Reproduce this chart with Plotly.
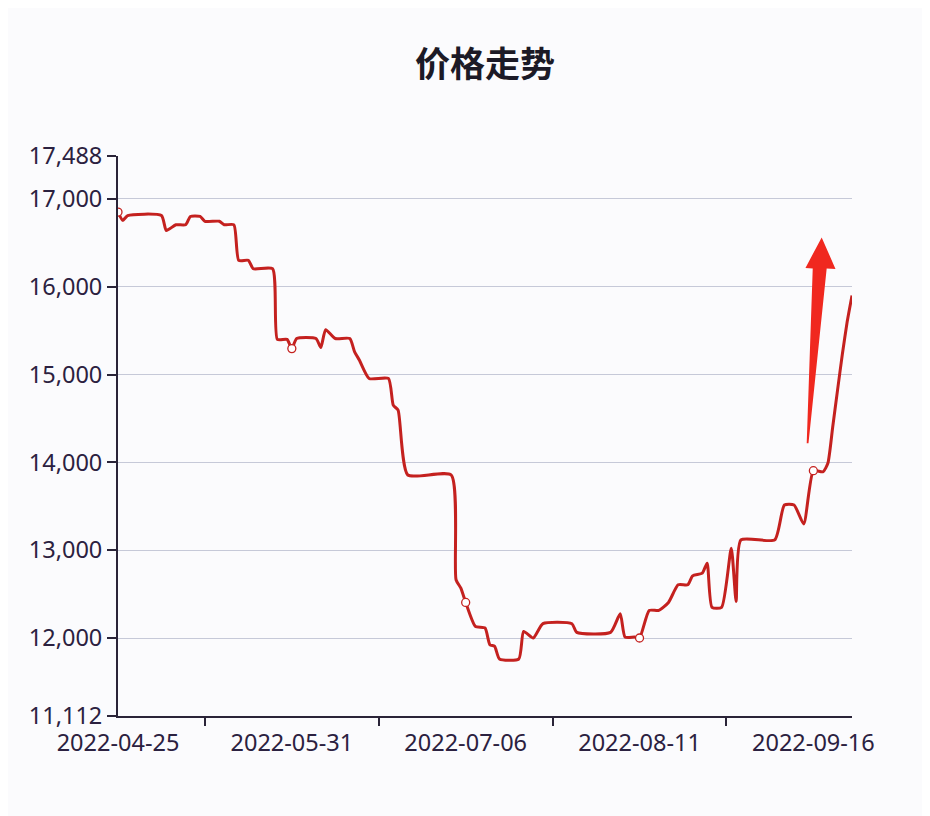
import plotly.graph_objects as go

# price series (daily closes, only the turning points kept)
dates = [
    "2022-04-25", "2022-04-26", "2022-04-27", "2022-05-04", "2022-05-05",
    "2022-05-07", "2022-05-09", "2022-05-10", "2022-05-12", "2022-05-13",
    "2022-05-16", "2022-05-17", "2022-05-19", "2022-05-20", "2022-05-22",
    "2022-05-23", "2022-05-27", "2022-05-28", "2022-05-30", "2022-05-31",
    "2022-06-01", "2022-06-05", "2022-06-06", "2022-06-07", "2022-06-09",
    "2022-06-12", "2022-06-13", "2022-06-14", "2022-06-16", "2022-06-20",
    "2022-06-21", "2022-06-22", "2022-06-24", "2022-07-03", "2022-07-04",
    "2022-07-05", "2022-07-06", "2022-07-08", "2022-07-10", "2022-07-11",
    "2022-07-12", "2022-07-13", "2022-07-17", "2022-07-18", "2022-07-20",
    "2022-07-22", "2022-07-28", "2022-07-29", "2022-08-05", "2022-08-07",
    "2022-08-08", "2022-08-10", "2022-08-11", "2022-08-13", "2022-08-15",
    "2022-08-17", "2022-08-19", "2022-08-21", "2022-08-22", "2022-08-24",
    "2022-08-25", "2022-08-26", "2022-08-28", "2022-08-30", "2022-08-31",
    "2022-09-01", "2022-09-08", "2022-09-10", "2022-09-12", "2022-09-14",
    "2022-09-16", "2022-09-18", "2022-09-19", "2022-09-20", "2022-09-21",
    "2022-09-22", "2022-09-23", "2022-09-24",
]
prices = [
    16850, 16755, 16810, 16810, 16640,
    16705, 16705, 16800, 16800, 16745,
    16745, 16705, 16705, 16300, 16300,
    16205, 16205, 15400, 15400, 15295,
    15410, 15410, 15307, 15510, 15410,
    15410, 15257, 15163, 14955, 14955,
    14651, 14594, 13856, 13856, 12663,
    12568, 12405, 12132, 12114, 11924,
    11905, 11761, 11761, 12075, 12000,
    12163, 12163, 12064, 12064, 12276,
    12011, 12011, 12000, 12314, 12314,
    12405, 12606, 12606, 12708, 12739,
    12852, 12350, 12350, 13023, 12416,
    13117, 13117, 13515, 13515, 13299,
    13905, 13893, 13989, 14400, 14820,
    15230, 15600, 15900,
]

x_labels = ["2022-04-25", "2022-05-31", "2022-07-06", "2022-08-11", "2022-09-16"]
x_tickmarks = ["2022-05-13", "2022-06-18", "2022-07-24", "2022-08-29"]
y_ticks = [11112, 12000, 13000, 14000, 15000, 16000, 17000, 17488]

line_color = "#c4211f"
text_color = "#2b2140"
axis_color = "#2a2438"
bg = "#fbfbfd"

fig = go.Figure()
fig.add_trace(go.Scatter(
    x=dates, y=prices, mode="lines",
    line=dict(color=line_color, width=3, shape="spline", smoothing=0.55),
    showlegend=False))

# hollow symbols only on the labelled days
mk = [(d, p) for d, p in zip(dates, prices) if d in x_labels]
fig.add_trace(go.Scatter(
    x=[m[0] for m in mk], y=[m[1] for m in mk], mode="markers",
    marker=dict(size=8, color="white", line=dict(color=line_color, width=1.3)),
    showlegend=False))

# hand drawn red arrow, outline measured in pixels of the plot area -> paper
L, R, T, B = 118, 852, 155.5, 716


def px(x, y):
    return (x - L) / (R - L), (B - y) / (B - T)


arrow = [(806.7, 443), (812.7, 268), (805.5, 267.5), (821.7, 237),
         (835.5, 268.5), (826.7, 268), (808.5, 443)]
pts = [px(*a) for a in arrow]
path = "M " + " L ".join(f"{a:.4f},{b:.4f}" for a, b in pts) + " Z"
fig.add_shape(type="path", path=path, xref="paper", yref="paper",
              fillcolor="#f0281f", line=dict(width=0), layer="above")

# the page adds an 8px body margin, so the plot box is shifted back by it
off = 8
fig.update_layout(
    width=930, height=816,
    margin=dict(l=L - off, r=930 - R + off, t=T - off, b=816 - B + off),
    paper_bgcolor=bg, plot_bgcolor=bg,
    title=dict(text="价格走势", x=0.5, xref="paper", xanchor="center",
               y=1 - (65 - off) / 816, yref="container", yanchor="middle",
               font=dict(family="Noto Sans CJK SC", size=35, color="#1c1a26",
                         weight="bold")),
    font=dict(family="Noto Sans", size=23.5, color=text_color),
)
fig.update_xaxes(
    type="date", range=["2022-04-25", "2022-09-24"],
    tickmode="array", tickvals=x_labels, ticktext=x_labels,
    ticks="", showgrid=False, zeroline=False,
    showline=True, linecolor=axis_color, linewidth=2,
    minor=dict(tickmode="array", tickvals=x_tickmarks, ticks="outside",
               ticklen=8, tickwidth=2, tickcolor=axis_color, showgrid=False),
    ticklabelstandoff=5,
)
fig.update_yaxes(
    range=[y_ticks[0], y_ticks[-1]],
    tickmode="array", tickvals=y_ticks, ticktext=[f"{v:,}" for v in y_ticks],
    ticks="outside", ticklen=9, tickwidth=2, tickcolor=axis_color,
    showgrid=True, gridcolor="#c6c9d8", gridwidth=1, zeroline=False,
    showline=True, linecolor=axis_color, linewidth=2,
)

fig.write_html("out.html")
